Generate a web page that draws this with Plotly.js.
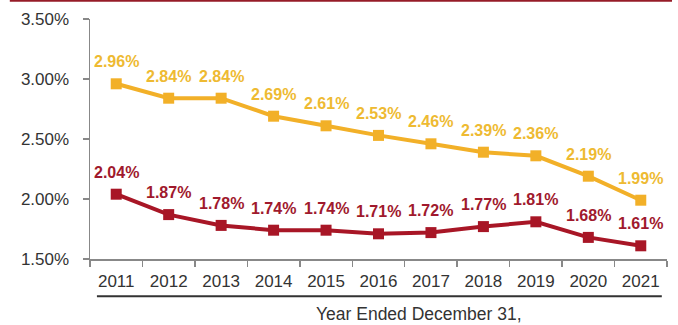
<!DOCTYPE html>
<html>
<head>
<meta charset="utf-8">
<script src="https://cdn.plot.ly/plotly-3.0.1.min.js"></script>
<style>html,body{margin:0;padding:0;background:#fff;}#chart{width:678px;height:325px;}</style>
</head>
<body>
<div id="chart"></div>
<script>
const years = ['2011','2012','2013','2014','2015','2016','2017','2018','2019','2020','2021'];
const goldValues = [2.96, 2.84, 2.84, 2.69, 2.61, 2.53, 2.46, 2.39, 2.36, 2.19, 1.99];
const redValues = [2.04, 1.87, 1.78, 1.74, 1.74, 1.71, 1.72, 1.77, 1.81, 1.68, 1.61];
const yTickVals = [1.5, 2.0, 2.5, 3.0, 3.5];
const yTickText = ['1.50%', '2.00%', '2.50%', '3.00%', '3.50%'];
const xTitle = 'Year Ended December 31,';

const GOLD = 'rgb(242,176,40)';
const GOLD_TXT = 'rgb(238,186,50)';
const RED = 'rgb(168,22,38)';
const RED_TXT = 'rgb(160,25,45)';

function trace(vals, color) {
  return {
    x: years, y: vals, type: 'scatter', mode: 'lines+markers',
    line: {color: color, width: 4},
    marker: {symbol: 'square', size: 11, color: color},
    hoverinfo: 'skip', showlegend: false
  };
}
function labels(vals, color) {
  return vals.map((v, i) => ({
    x: i, y: v, xref: 'x', yref: 'y', showarrow: false,
    text: '<b>' + v.toFixed(2) + '%</b>', yshift: 22,
    font: {family: 'Arial, Liberation Sans, sans-serif', size: 16, color: color}
  }));
}

const layout = {
  width: 678, height: 325,
  margin: {l: 90, r: 11, t: 19, b: 66},
  paper_bgcolor: '#fff', plot_bgcolor: '#fff',
  font: {family: 'Arial, Liberation Sans, sans-serif', color: '#333'},
  xaxis: {
    type: 'category', categoryorder: 'array', categoryarray: years, range: [-0.5, 10.5],
    tickson: 'boundaries', ticks: 'outside', ticklen: 6, tickcolor: '#888', tickwidth: 1.5,
    showline: true, linecolor: '#888', linewidth: 1.5, showgrid: false, zeroline: false,
    tickfont: {size: 17, color: '#333'}, tickangle: 0, ticklabelstandoff: 6, fixedrange: true
  },
  yaxis: {
    range: [1.5, 3.5], tickvals: yTickVals, ticktext: yTickText, ticks: 'outside', ticklen: 6,
    tickcolor: '#888', tickwidth: 1.5, showline: true, linecolor: '#888', linewidth: 1.5,
    showgrid: false, zeroline: false, tickfont: {size: 17, color: '#333'}, ticklabelstandoff: 10, fixedrange: true
  },
  shapes: [
    {type: 'line', xref: 'paper', yref: 'paper', x0: -0.139, x1: 1.0087, y0: 1.077, y1: 1.077,
     line: {color: 'rgb(150,28,40)', width: 2.5}},
    {type: 'line', xref: 'paper', yref: 'paper', x0: 0.012, x1: 0.991, y0: -0.155, y1: -0.155,
     line: {color: '#333', width: 2}}
  ],
  annotations: labels(goldValues, GOLD_TXT).concat(labels(redValues, RED_TXT)).concat([
    {xref: 'paper', yref: 'paper', x: 0.57, y: -0.18, yanchor: 'top', showarrow: false, text: xTitle,
     font: {size: 17.5, color: '#333'}}
  ])
};

Plotly.newPlot('chart', [trace(goldValues, GOLD), trace(redValues, RED)], layout, {displayModeBar: false, staticPlot: true});
</script>
</body>
</html>
